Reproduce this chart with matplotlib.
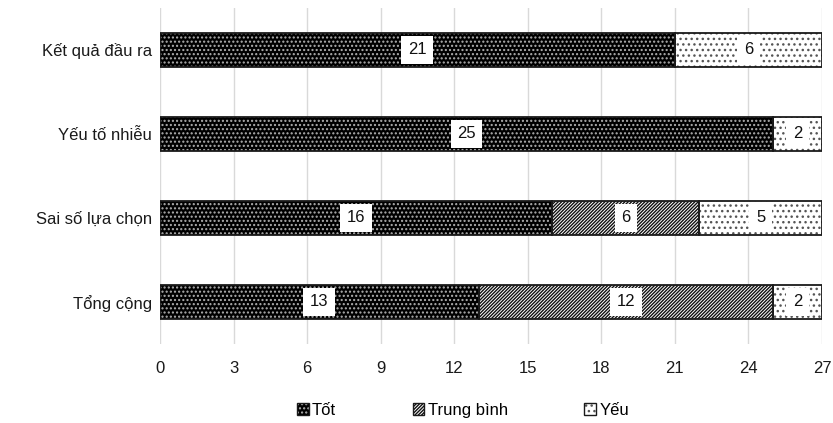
import matplotlib
matplotlib.use("Agg")
import matplotlib.pyplot as plt
from matplotlib.patches import Patch
import numpy as np

plt.rcParams['font.family'] = ['Liberation Sans', 'DejaVu Sans']
plt.rcParams['hatch.linewidth'] = 1.0

categories = ["Kết quả đầu ra", "Yếu tố nhiễu", "Sai số lựa chọn", "Tổng cộng"]
series_names = ["Tốt", "Trung bình", "Yếu"]
tot = [21, 25, 16, 13]
trung_binh = [0, 0, 6, 12]
yeu = [6, 2, 5, 2]
xticks = [0, 3, 6, 9, 12, 15, 18, 21, 24, 27]

series = [tot, trung_binh, yeu]
styles = [
    dict(face="#000000", hatch="....", hcolor="#b0b0b0"),
    dict(face="white", hatch="/" * 10, hcolor="#111111"),
    dict(face="white", hatch="...", hcolor="#555555"),
]

fig = plt.figure(figsize=(8.33, 4.23), dpi=100)
ax = fig.add_axes([160 / 833, 1 - 344 / 423, 662 / 833, 336 / 423])

y = np.arange(len(categories))
left = np.zeros(len(categories))
for vals, st in zip(series, styles):
    vals = np.array(vals, dtype=float)
    # patterned fill (hatch colour follows the edge colour)
    ax.barh(y, vals, left=left, height=0.4, color=st["face"],
            edgecolor=st["hcolor"], hatch=st["hatch"], linewidth=0, zorder=2)
    # outline
    ax.barh(y, vals, left=left, height=0.4, fill=False,
            edgecolor="#1a1a1a", linewidth=1.3, zorder=3)
    for yi, l, v in zip(y, left, vals):
        if v > 0:
            ax.text(l + v / 2, yi, f"{int(v)}", ha="center", va="center",
                    fontsize=12, color="#111111", zorder=4,
                    bbox=dict(boxstyle="square,pad=0.4", fc="white", ec="none"))
    left += vals

ax.set_xlim(0, 27)
ax.set_ylim(3.5, -0.5)
ax.set_xticks(xticks)
ax.set_yticks(y)
ax.set_yticklabels(categories)
ax.tick_params(axis="both", length=0, labelsize=12, colors="#1a1a1a")
ax.tick_params(axis="x", pad=12)
ax.tick_params(axis="y", pad=6)
ax.xaxis.grid(True, color="#d9d9d9", linewidth=1, zorder=0)
ax.set_axisbelow(True)
for s in ax.spines.values():
    s.set_visible(False)

handles = []
for st in styles:
    fill = Patch(facecolor=st["face"], edgecolor=st["hcolor"], hatch=st["hatch"],
                 linewidth=0)
    border = Patch(fill=False, edgecolor="#1a1a1a", linewidth=1.0)
    handles.append((fill, border))
leg = fig.legend(handles, series_names, loc="center", ncol=3,
                 bbox_to_anchor=(463 / 833, 1 - 410 / 423), frameon=False,
                 fontsize=12, handlelength=0.7, handleheight=0.7,
                 handletextpad=0.2, columnspacing=4.6)

fig.savefig("out.png", dpi=100)
